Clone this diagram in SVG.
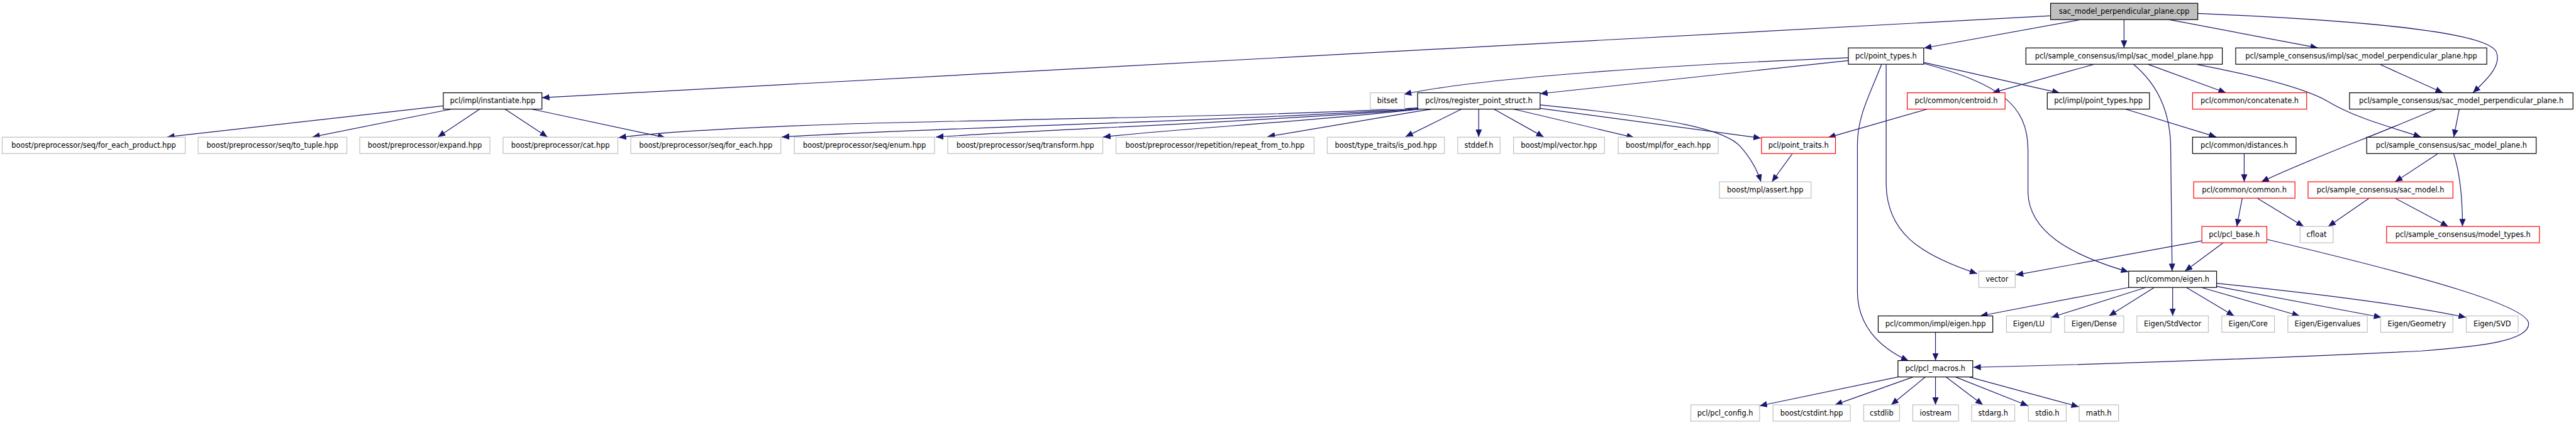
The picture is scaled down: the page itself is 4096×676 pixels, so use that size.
<svg xmlns="http://www.w3.org/2000/svg" width="4096" height="676" viewBox="0 0 4096 676">
<style>
.n rect{fill:#fff;stroke-width:1.3}
.b rect{stroke:#000}
.g rect{stroke:#bfbfbf}
.r rect{stroke:#ff0000}
.root rect{fill:#bfbfbf;stroke:#000}
text{font-family:"DejaVu Sans",Verdana,sans-serif;font-size:12.45px;text-anchor:middle;fill:#000}
.e path{fill:none;stroke:#191970;stroke-width:1.3;marker-end:url(#a)}
</style>
<defs>
<marker id="a" markerUnits="userSpaceOnUse" markerWidth="13" markerHeight="11" viewBox="0 0 13 11" refX="13" refY="5.5" orient="auto"><path d="M0,0 L13,5.5 L0,11 z" fill="#191970"/></marker>
</defs>
<rect width="4096" height="676" fill="#fff"/>
<g transform="scale(0.91818)">
<g id="edges" class="e">
<path d="M3551,27.3 L938.5,169.3"/>
<path d="M3603.3,34 L3331.9,83.3"/>
<path d="M3678.3,34 L3678.3,83"/>
<path d="M3753,33.3 L4014,83"/>
<path d="M3806,23.3 C4150,38 4310,60 4323,90 C4332,112 4310,135 4282.4,160.7"/>
<path d="M3200.9,100 C2900,112 2560,135 2431.3,163.3"/>
<path d="M3200.9,105 L2667.1,162.3"/>
<path d="M3266.4,111.7 L3266.4,320 C3268,400 3320,440 3424,474"/>
<path d="M3258.3,111.7 C3240,160 3216.6,200 3216.6,250 L3216.6,505 C3216.6,560 3250,600 3305,625"/>
<path d="M3331.9,108.3 L3566.8,161"/>
<path d="M3331.9,110 C3460,145 3512,180 3512,260 L3512,335 C3515,400 3580,440 3686,471"/>
<path d="M767.7,183.3 L289.4,237.3"/>
<path d="M782,189 L540.9,237.3"/>
<path d="M830.8,189 L758.2,237.3"/>
<path d="M874.5,189 L948,237.3"/>
<path d="M920.5,189 L1152,238.3"/>
<path d="M2455,187 C2250,200 1700,208 1488,214 C1300,220 1150,228 1071.4,238.3"/>
<path d="M2455,188 C2200,207 1600,222 1353.8,237.3"/>
<path d="M2456,189 C2200,210 1800,225 1620.9,237.3"/>
<path d="M2458,189 C2250,212 2050,222 1910.3,237.3"/>
<path d="M2478.7,189 C2380,205 2280,222 2195,236.7"/>
<path d="M2531,189 L2434,237"/>
<path d="M2560.8,189 L2560.8,237.3"/>
<path d="M2587,189 L2673.3,237.3"/>
<path d="M2621,189 L2829.9,238.3"/>
<path d="M2667.1,187.7 L3049.5,239.3"/>
<path d="M2667,181.7 C2900,205 2990,225 3015,255 C3035,278 3045,300 3049.5,315"/>
<path d="M3625.1,111.7 L3450.5,160.7"/>
<path d="M3720,111.5 L3854.7,160.7"/>
<path d="M3805,111.7 C3900,130 3990,152 4030,175 C4080,205 4140,220 4192.6,237.3"/>
<path d="M3694.9,111.7 C3735,145 3757,190 3759,250 L3761.6,469.7"/>
<path d="M3680.6,189 L3838.2,237.3"/>
<path d="M4121.7,111.7 L4230.4,160.7"/>
<path d="M4218.6,189 C4120,232 4000,275 3916.1,315"/>
<path d="M4258.8,189 L4249.3,237.3"/>
<path d="M3886.4,266 L3886.4,315"/>
<path d="M4221,266.7 L4147.7,315"/>
<path d="M4249.3,266.7 C4260,300 4264.4,340 4264.4,392.3"/>
<path d="M3337.6,189 L3165.8,238.3"/>
<path d="M3104.1,266 L3068.5,315"/>
<path d="M3883,343.3 L3873.6,392.3"/>
<path d="M3909,343.3 L3989.4,392.3"/>
<path d="M4102.8,343.3 L4031.9,392.3"/>
<path d="M4147.7,343.3 L4239.8,392.3"/>
<path d="M3813.1,417.3 L3490.9,476.3"/>
<path d="M3850,420.7 L3783.8,469.7"/>
<path d="M3925.6,414.7 C4200,480 4379,530 4379,561 C4379,590 4300,600 4192.6,608 C3900,622 3600,632 3417.3,636.3"/>
<path d="M3686.3,498 L3429.2,547.3"/>
<path d="M3716,498 L3552.5,549.7"/>
<path d="M3730.7,498 L3652.2,547.3"/>
<path d="M3762.5,498 L3762.5,547.3"/>
<path d="M3786.2,498 L3868.9,547.3"/>
<path d="M3812.2,498 L3982.3,547.3"/>
<path d="M3838.2,496 L4124,549.7"/>
<path d="M3838.6,490.7 C4000,508 4150,525 4270.6,549.7"/>
<path d="M3351.8,575.3 L3351.8,624.7"/>
<path d="M3286.8,653 L3047.2,703"/>
<path d="M3313,653 L3177.7,701.3"/>
<path d="M3334.3,653 L3275,701.3"/>
<path d="M3351.8,653 L3351.8,701.3"/>
<path d="M3369.8,653 L3433.9,701.3"/>
<path d="M3386.4,653 L3512.2,703"/>
<path d="M3410.2,653 L3600,704.7"/>
</g>
<g id="n_cpp" class="n root"><rect x="3551.1" y="5.7" width="254.9" height="28.3"/><text x="3678.5" y="24">sac_model_perpendicular_plane.cpp</text></g>
<g id="n_point_types_h" class="n b"><rect x="3200.9" y="83" width="130.5" height="28.3"/><text x="3266.2" y="101.3">pcl/point_types.h</text></g>
<g id="n_smp_hpp" class="n b"><rect x="3508.4" y="83" width="340.1" height="28.3"/><text x="3678.5" y="101.3">pcl/sample_consensus/impl/sac_model_plane.hpp</text></g>
<g id="n_smpp_hpp" class="n b"><rect x="3871.7" y="83" width="434.8" height="28.3"/><text x="4089.1" y="101.3">pcl/sample_consensus/impl/sac_model_perpendicular_plane.hpp</text></g>
<g id="n_instantiate" class="n b"><rect x="767.7" y="160.7" width="170.8" height="28.3"/><text x="853.1" y="179">pcl/impl/instantiate.hpp</text></g>
<g id="n_bitset" class="n g"><rect x="2372.9" y="160.7" width="59.3" height="28.3"/><text x="2402.6" y="179">bitset</text></g>
<g id="n_register" class="n b"><rect x="2455" y="160.7" width="212.1" height="28.3"/><text x="2561" y="179">pcl/ros/register_point_struct.h</text></g>
<g id="n_centroid" class="n r"><rect x="3302.9" y="160.7" width="169.4" height="28.3"/><text x="3387.6" y="179">pcl/common/centroid.h</text></g>
<g id="n_impl_point_types" class="n b"><rect x="3545.4" y="160.7" width="177" height="28.3"/><text x="3633.9" y="179">pcl/impl/point_types.hpp</text></g>
<g id="n_concatenate" class="n r"><rect x="3797" y="160.7" width="197.6" height="28.3"/><text x="3895.8" y="179">pcl/common/concatenate.h</text></g>
<g id="n_smpp_h" class="n b"><rect x="4068.8" y="160.7" width="387" height="28.3"/><text x="4262.3" y="179">pcl/sample_consensus/sac_model_perpendicular_plane.h</text></g>
<g id="n_fep" class="n g"><rect x="3.8" y="237.7" width="317" height="28.3"/><text x="162.3" y="256">boost/preprocessor/seq/for_each_product.hpp</text></g>
<g id="n_to_tuple" class="n g"><rect x="343.1" y="237.7" width="257.6" height="28.3"/><text x="471.9" y="256">boost/preprocessor/seq/to_tuple.hpp</text></g>
<g id="n_expand" class="n g"><rect x="623" y="237.7" width="225.4" height="28.3"/><text x="735.7" y="256">boost/preprocessor/expand.hpp</text></g>
<g id="n_cat" class="n g"><rect x="871.2" y="237.7" width="198.8" height="28.3"/><text x="970.6" y="256">boost/preprocessor/cat.hpp</text></g>
<g id="n_seq_for_each" class="n g"><rect x="1092.3" y="237.7" width="260" height="28.3"/><text x="1222.3" y="256">boost/preprocessor/seq/for_each.hpp</text></g>
<g id="n_enum" class="n g"><rect x="1375.6" y="237.7" width="242.9" height="28.3"/><text x="1497" y="256">boost/preprocessor/seq/enum.hpp</text></g>
<g id="n_transform" class="n g"><rect x="1641.3" y="237.7" width="268.5" height="28.3"/><text x="1775.5" y="256">boost/preprocessor/seq/transform.hpp</text></g>
<g id="n_repeat" class="n g"><rect x="1932.6" y="237.7" width="343.1" height="28.3"/><text x="2104.1" y="256">boost/preprocessor/repetition/repeat_from_to.hpp</text></g>
<g id="n_is_pod" class="n g"><rect x="2298.4" y="237.7" width="203.1" height="28.3"/><text x="2400" y="256">boost/type_traits/is_pod.hpp</text></g>
<g id="n_stddef" class="n g"><rect x="2524.3" y="237.7" width="73.5" height="28.3"/><text x="2561" y="256">stddef.h</text></g>
<g id="n_mpl_vector" class="n g"><rect x="2621.1" y="237.7" width="157.5" height="28.3"/><text x="2699.8" y="256">boost/mpl/vector.hpp</text></g>
<g id="n_mpl_for_each" class="n g"><rect x="2802.3" y="237.7" width="173.2" height="28.3"/><text x="2888.9" y="256">boost/mpl/for_each.hpp</text></g>
<g id="n_point_traits" class="n r"><rect x="3050.5" y="237.7" width="128.1" height="28.3"/><text x="3114.5" y="256">pcl/point_traits.h</text></g>
<g id="n_distances" class="n b"><rect x="3797" y="237.7" width="179.2" height="28.3"/><text x="3886.6" y="256">pcl/common/distances.h</text></g>
<g id="n_smp_h" class="n b"><rect x="4098.6" y="237.7" width="293.4" height="28.3"/><text x="4245.3" y="256">pcl/sample_consensus/sac_model_plane.h</text></g>
<g id="n_assert" class="n g"><rect x="2977.4" y="315" width="159" height="28.3"/><text x="3056.9" y="333.3">boost/mpl/assert.hpp</text></g>
<g id="n_common" class="n r"><rect x="3798.9" y="315" width="175.4" height="28.3"/><text x="3886.6" y="333.3">pcl/common/common.h</text></g>
<g id="n_sac_model" class="n r"><rect x="3997" y="315" width="250.9" height="28.3"/><text x="4122.4" y="333.3">pcl/sample_consensus/sac_model.h</text></g>
<g id="n_pcl_base" class="n r"><rect x="3813.1" y="392.3" width="112.5" height="28.3"/><text x="3869.3" y="410.6">pcl/pcl_base.h</text></g>
<g id="n_cfloat" class="n g"><rect x="3983.2" y="392.3" width="57.2" height="28.3"/><text x="4011.8" y="410.6">cfloat</text></g>
<g id="n_model_types" class="n r"><rect x="4133" y="392.3" width="264.7" height="28.3"/><text x="4265.3" y="410.6">pcl/sample_consensus/model_types.h</text></g>
<g id="n_vector" class="n g"><rect x="3426.8" y="469.7" width="63.1" height="28.3"/><text x="3458.3" y="488">vector</text></g>
<g id="n_eigen_h" class="n b"><rect x="3686.3" y="469.7" width="152.3" height="28.3"/><text x="3762.4" y="488">pcl/common/eigen.h</text></g>
<g id="n_eigen_hpp" class="n b"><rect x="3252.6" y="547.3" width="198.4" height="28.3"/><text x="3351.8" y="565.6">pcl/common/impl/eigen.hpp</text></g>
<g id="n_lu" class="n g"><rect x="3474.7" y="547.3" width="77.3" height="28.3"/><text x="3513.3" y="565.6">Eigen/LU</text></g>
<g id="n_dense" class="n g"><rect x="3575.3" y="547.3" width="102.5" height="28.3"/><text x="3626.5" y="565.6">Eigen/Dense</text></g>
<g id="n_stdvector" class="n g"><rect x="3700.6" y="547.3" width="123.8" height="28.3"/><text x="3762.5" y="565.6">Eigen/StdVector</text></g>
<g id="n_core" class="n g"><rect x="3847.6" y="547.3" width="91.2" height="28.3"/><text x="3893.2" y="565.6">Eigen/Core</text></g>
<g id="n_eigenvalues" class="n g"><rect x="3962" y="547.3" width="137.5" height="28.3"/><text x="4030.7" y="565.6">Eigen/Eigenvalues</text></g>
<g id="n_geometry" class="n g"><rect x="4122.7" y="547.3" width="125.2" height="28.3"/><text x="4185.3" y="565.6">Eigen/Geometry</text></g>
<g id="n_svd" class="n g"><rect x="4271" y="547.3" width="89.8" height="28.3"/><text x="4315.9" y="565.6">Eigen/SVD</text></g>
<g id="n_pcl_macros" class="n b"><rect x="3286.8" y="624.7" width="129.5" height="28.3"/><text x="3351.5" y="643">pcl/pcl_macros.h</text></g>
<g id="n_pcl_config" class="n g"><rect x="2928.1" y="701.3" width="119.1" height="28.3"/><text x="2987.6" y="719.6">pcl/pcl_config.h</text></g>
<g id="n_cstdint" class="n g"><rect x="3070.4" y="701.3" width="133.8" height="28.3"/><text x="3137.3" y="719.6">boost/cstdint.hpp</text></g>
<g id="n_cstdlib" class="n g"><rect x="3227.5" y="701.3" width="62.1" height="28.3"/><text x="3258.5" y="719.6">cstdlib</text></g>
<g id="n_iostream" class="n g"><rect x="3312.4" y="701.3" width="79.3" height="28.3"/><text x="3352" y="719.6">iostream</text></g>
<g id="n_stdarg" class="n g"><rect x="3414.4" y="701.3" width="74.6" height="28.3"/><text x="3451.7" y="719.6">stdarg.h</text></g>
<g id="n_stdio" class="n g"><rect x="3512.7" y="701.3" width="65.5" height="28.3"/><text x="3545.4" y="719.6">stdio.h</text></g>
<g id="n_math" class="n g"><rect x="3600.5" y="701.3" width="68.3" height="28.3"/><text x="3634.6" y="719.6">math.h</text></g>
</g>
</svg>
